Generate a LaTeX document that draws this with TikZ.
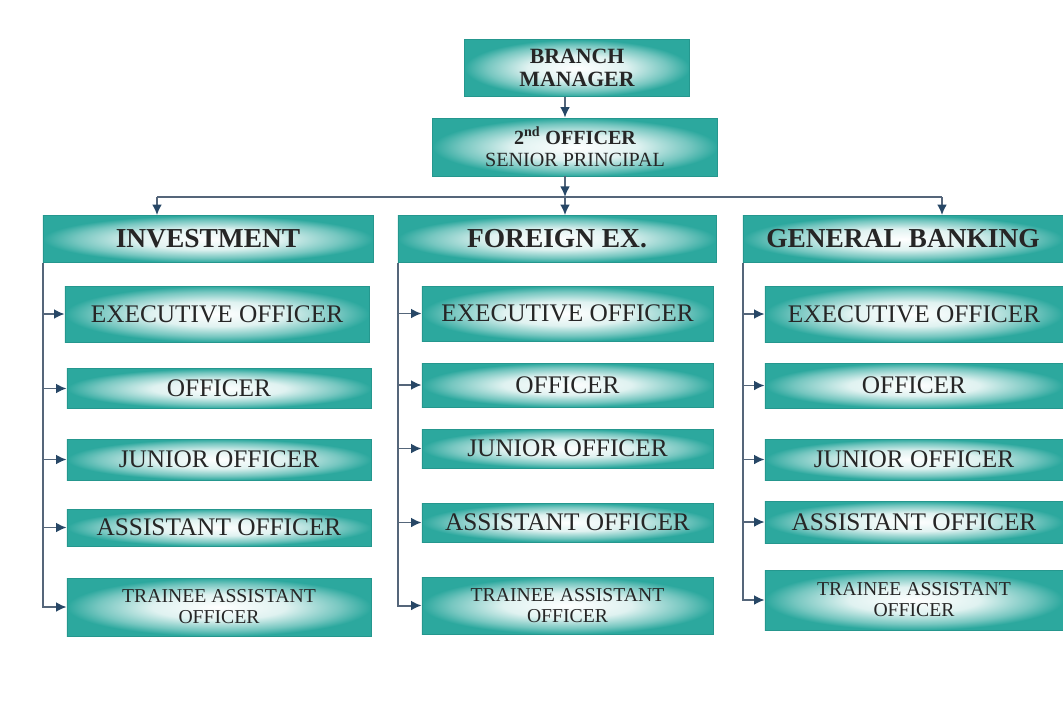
\documentclass[tikz,border=0pt]{standalone}
\usepackage{fontspec}
\setmainfont{Liberation Serif}
\usetikzlibrary{arrows.meta}
\definecolor{boxteal}{HTML}{2CA89E}
\definecolor{boxedge}{HTML}{25978E}
\definecolor{linkcolor}{HTML}{55667A}
\definecolor{tipcolor}{HTML}{274766}
\pgfdeclareradialshading{boxglow}{\pgfpoint{0bp}{0bp}}{color(0bp)=(white); color(11bp)=(white!85!boxteal); color(20bp)=(boxteal!65!white); color(25bp)=(boxteal); color(50bp)=(boxteal)}

\begin{document}
\begin{tikzpicture}[x=0.025cm, y=-0.025cm,
  box/.style={draw=boxedge, line width=0.5pt, rectangle, shading=boxglow, align=center, inner sep=0pt, text=black!85},
  headbox/.style={box, font=\bfseries\fontsize{19.5pt}{22pt}\selectfont},
  rolebox/.style={box, font=\fontsize{18pt}{20pt}\selectfont},
  traineebox/.style={box, font=\fontsize{14pt}{15pt}\selectfont},
  link/.style={draw=linkcolor, line width=1.4pt, -{Latex[length=7.5pt,width=7pt,color=tipcolor]}},
  bus/.style={draw=linkcolor, line width=1.4pt}]%
\fill[white] (0,0) rectangle (1063,713);%
\useasboundingbox (0,0) rectangle (1063,713);%
% top of the tree
\node[box, font=\bfseries\fontsize{15.5pt}{16.5pt}\selectfont, minimum width=5.625cm, minimum height=1.425cm] (manager) at (577,68) {BRANCH\\MANAGER};%
\node[box, font=\fontsize{14.3pt}{16pt}\selectfont, minimum width=7.125cm, minimum height=1.45cm] (second) at (575,147) {{\bfseries 2\textsuperscript{nd} OFFICER}\\SENIOR PRINCIPAL};%
\coordinate (busL) at (157,197);%
\coordinate (busM) at (565,197);%
\coordinate (busR) at (942,197);%
% departments
\node[headbox, minimum width=8.25cm, minimum height=1.175cm] (inv) at (208,239) {INVESTMENT};%
\node[headbox, minimum width=7.95cm, minimum height=1.175cm] (fx) at (557,239) {FOREIGN EX.};%
\node[headbox, minimum width=8cm, minimum height=1.175cm] (gb) at (903,239) {GENERAL BANKING};%
% investment
\node[rolebox, minimum width=7.6cm, minimum height=1.4cm] (exec1) at (217,314) {EXECUTIVE OFFICER};%
\node[rolebox, minimum width=7.6cm, minimum height=1cm] (off1) at (219,388.5) {OFFICER};%
\node[rolebox, minimum width=7.6cm, minimum height=1.025cm] (jun1) at (219,459.5) {JUNIOR OFFICER};%
\node[rolebox, minimum width=7.6cm, minimum height=0.925cm] (ass1) at (219,527.5) {ASSISTANT OFFICER};%
\node[traineebox, minimum width=7.6cm, minimum height=1.45cm] (tr1) at (219,607) {TRAINEE ASSISTANT\\OFFICER};%
% foreign exchange
\node[rolebox, minimum width=7.275cm, minimum height=1.375cm] (exec2) at (567.5,313.5) {EXECUTIVE OFFICER};%
\node[rolebox, minimum width=7.275cm, minimum height=1.1cm] (off2) at (567.5,385) {OFFICER};%
\node[rolebox, minimum width=7.275cm, minimum height=0.975cm] (jun2) at (567.5,448.5) {JUNIOR OFFICER};%
\node[rolebox, minimum width=7.275cm, minimum height=0.975cm] (ass2) at (567.5,522.5) {ASSISTANT OFFICER};%
\node[traineebox, minimum width=7.275cm, minimum height=1.425cm] (tr2) at (567.5,605.5) {TRAINEE ASSISTANT\\OFFICER};%
% general banking
\node[rolebox, minimum width=7.45cm, minimum height=1.4cm] (exec3) at (914,314) {EXECUTIVE OFFICER};%
\node[rolebox, minimum width=7.45cm, minimum height=1.125cm] (off3) at (914,385.5) {OFFICER};%
\node[rolebox, minimum width=7.45cm, minimum height=1.025cm] (jun3) at (914,459.5) {JUNIOR OFFICER};%
\node[rolebox, minimum width=7.45cm, minimum height=1.05cm] (ass3) at (914,522) {ASSISTANT OFFICER};%
\node[traineebox, minimum width=7.45cm, minimum height=1.5cm] (tr3) at (914,600) {TRAINEE ASSISTANT\\OFFICER};%
% connectors
\draw[link] (manager.south -| busM) -- (second.north -| busM);%
\draw[link] (second.south -| busM) -- (busM);%
\draw[bus] (busL) -- (busR);%
\draw[link] (busL) -- (busL |- inv.north);%
\draw[link] (busM) -- (busM |- fx.north);%
\draw[link] (busR) -- (busR |- gb.north);%
\draw[link] (inv.south west) |- (exec1.west);%
\draw[link] (inv.south west) |- (off1.west);%
\draw[link] (inv.south west) |- (jun1.west);%
\draw[link] (inv.south west) |- (ass1.west);%
\draw[link] (inv.south west) |- (tr1.west);%
\draw[link] (fx.south west) |- (exec2.west);%
\draw[link] (fx.south west) |- (off2.west);%
\draw[link] (fx.south west) |- (jun2.west);%
\draw[link] (fx.south west) |- (ass2.west);%
\draw[link] (fx.south west) |- (tr2.west);%
\draw[link] (gb.south west) |- (exec3.west);%
\draw[link] (gb.south west) |- (off3.west);%
\draw[link] (gb.south west) |- (jun3.west);%
\draw[link] (gb.south west) |- (ass3.west);%
\draw[link] (gb.south west) |- (tr3.west);%
\end{tikzpicture}
\end{document}
